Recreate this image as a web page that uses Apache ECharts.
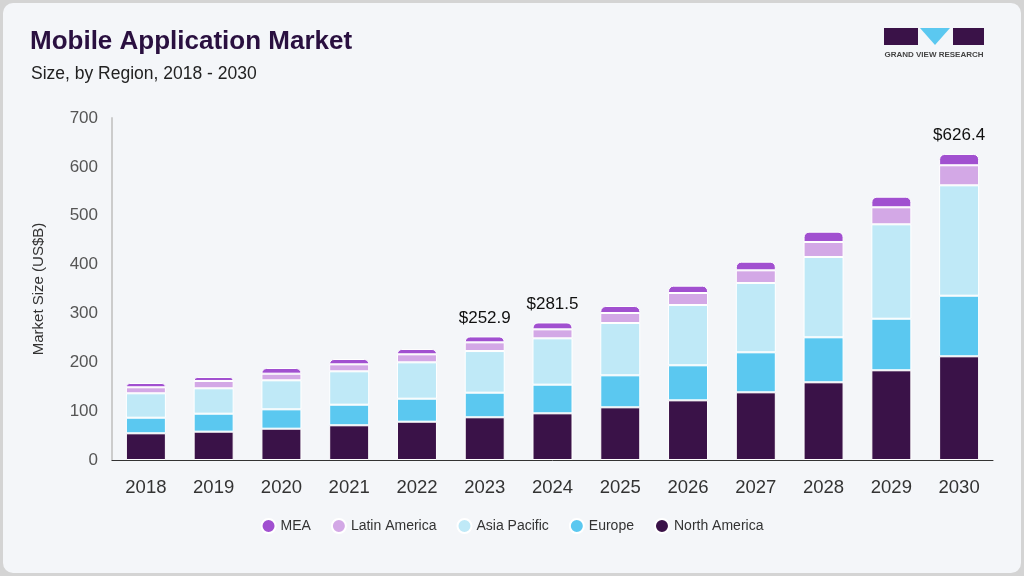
<!doctype html>
<html lang="en">
  <head>
    <meta charset="utf-8">
    <title>Mobile Application Market</title>
    <script src="https://cdn.jsdelivr.net/npm/echarts@6.0.0/dist/echarts.min.js"></script>
    <style>
      html, body { margin: 0; padding: 0; background: #d4d4d4; }
      #frame { width: 1018px; height: 570px; margin: 3px; border-radius: 10px; background: #f4f6f9; overflow: hidden; }
      #chart { width: 1018px; height: 570px; }
    </style>
  </head>
  <body>
    <div id="frame"><div id="chart"></div></div>

  <script>
    // data (US$B)
    var years = ['2018','2019','2020','2021','2022','2023','2024','2025','2026','2027','2028','2029','2030'];
    var northAmerica = [54.6, 58.0, 64.1, 71.0, 78.4, 87.4, 95.5, 107.8, 122.1, 138.5, 159.0, 183.6, 212.2];
    var europe       = [32.0, 36.8, 39.6, 42.2, 47.1, 50.4, 58.7, 65.5, 71.7, 81.9, 92.1, 105.6, 124.1];
    var asiaPacific  = [49.9, 51.9, 59.4, 68.3, 74.4, 85.2, 94.8, 107.1, 123.4, 141.9, 164.4, 193.2, 225.9];
    var latinAmerica = [12.3, 15.0, 13.6, 14.3, 16.4, 17.8, 18.4, 20.5, 24.6, 25.9, 30.7, 34.8, 41.0];
    var mea          = [8.8, 8.2, 11.6, 10.9, 10.9, 12.1, 14.1, 14.3, 15.0, 17.7, 21.1, 21.7, 23.2];
    var totalLabels  = ['', '', '', '', '', '$252.9', '$281.5', '', '', '', '', '', '$626.4'];

    var chart = echarts.init(document.getElementById('chart'), null, { renderer: 'canvas' });

    var font = 'Liberation Sans, Arial, sans-serif';

    function seg(name, data, color, top) {
      var s = {
        name: name,
        type: 'bar',
        stack: 'total',
        barWidth: 40,
        data: data,
        itemStyle: { color: color, borderColor: '#ffffff', borderWidth: 1 }
      };
      if (top) {
        s.itemStyle.borderRadius = [5, 5, 0, 0];
        s.label = {
          show: true,
          position: 'top',
          distance: 10,
          fontFamily: font,
          fontSize: 17,
          color: '#111',
          formatter: function (p) { return totalLabels[p.dataIndex]; }
        };
      }
      return s;
    }

    var option = {
      backgroundColor: 'transparent',
      animation: false,
      textStyle: { fontFamily: font },
      title: [
        { text: 'Mobile Application Market', left: 22, top: 21,
          textStyle: { fontFamily: font, fontSize: 26, fontWeight: 'bold', color: '#2a1040' } },
        { text: 'Size, by Region, 2018 - 2030', left: 23, top: 57,
          textStyle: { fontFamily: font, fontSize: 17.5, fontWeight: 'normal', color: '#222' } }
      ],
      graphic: [
        { type: 'rect', shape: { x: 881, y: 25, width: 34, height: 17 }, style: { fill: '#3a1248' } },
        { type: 'polygon', shape: { points: [[917, 25], [947, 25], [932, 42]] }, style: { fill: '#5bc8f0' } },
        { type: 'rect', shape: { x: 950, y: 25, width: 31, height: 17 }, style: { fill: '#3a1248' } },
        { type: 'text', x: 931, y: 52, style: { text: 'GRAND VIEW RESEARCH', fontFamily: font, fontSize: 8, fontWeight: 'bold', fill: '#444', align: 'center', verticalAlign: 'middle' } }
      ],
      legend: {
        bottom: 34,
        left: 'center',
        icon: 'circle',
        itemWidth: 14,
        itemHeight: 14,
        itemGap: 20,
        textStyle: { fontFamily: font, fontSize: 14, color: '#333' },
        data: ['MEA', 'Latin America', 'Asia Pacific', 'Europe', 'North America']
      },
      grid: { left: 109, right: 28, top: 115, bottom: 113 },
      xAxis: {
        type: 'category',
        data: years,
        axisLine: { lineStyle: { color: '#333', width: 1 } },
        axisTick: { show: false },
        axisLabel: { fontFamily: font, fontSize: 18.5, color: '#333', margin: 18 }
      },
      yAxis: {
        type: 'value',
        min: 0,
        max: 700,
        interval: 100,
        name: 'Market Size (US$B)',
        nameLocation: 'middle',
        nameGap: 66,
        nameTextStyle: { fontFamily: font, fontSize: 15, color: '#333' },
        axisLine: { show: true, lineStyle: { color: '#cccccc', width: 2 } },
        axisTick: { show: false },
        splitLine: { show: false },
        axisLabel: { fontFamily: font, fontSize: 17, color: '#555', margin: 14 }
      },
      series: [
        seg('North America', northAmerica, '#3a1248'),
        seg('Europe', europe, '#5bc8f0'),
        seg('Asia Pacific', asiaPacific, '#bfe9f7'),
        seg('Latin America', latinAmerica, '#d3a8e6'),
        seg('MEA', mea, '#a150d0', true)
      ]
    };

    chart.setOption(option);
    window.addEventListener('resize', chart.resize);
  </script>
  </body>
</html>
